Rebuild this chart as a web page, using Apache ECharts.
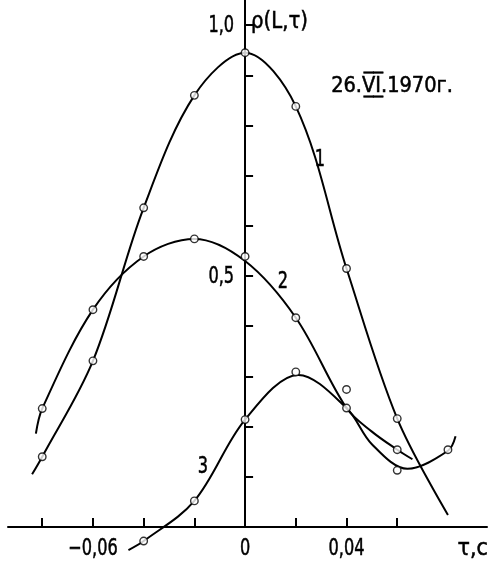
<!DOCTYPE html>
<html>
<head>
<meta charset="utf-8">
<script src="https://cdn.jsdelivr.net/npm/echarts@6/dist/echarts.min.js"></script>
<style>
  html, body { margin: 0; padding: 0; background: #fff; }
  #chart { width: 490px; height: 563px; }
</style>
</head>
<body>
<div id="chart"></div>
<script>
// Correlation coefficient ρ(L,τ) against time shift τ, seconds (26.VI.1970)

// Axis ticks and labelled values
const tauTicks = [-0.08, -0.06, -0.04, -0.02, 0.02, 0.04, 0.06];
const tauLabels = [-0.06, 0, 0.04];
const rhoTicks = [0.1, 0.2, 0.3, 0.4, 0.5, 0.6, 0.7, 0.8, 0.9, 1.0];
const rhoLabels = [0.5, 1.0];

// Measured values (circles), [τ, ρ]
const points1 = [[-0.08, 0.140], [-0.06, 0.331], [-0.04, 0.636], [-0.02, 0.860],
                 [0, 0.945], [0.02, 0.838], [0.04, 0.515], [0.06, 0.216]];
const points2 = [[-0.08, 0.236], [-0.06, 0.433], [-0.04, 0.539], [-0.02, 0.574],
                 [0, 0.539], [0.02, 0.417], [0.04, 0.237], [0.06, 0.154]];
const points3 = [[-0.04, -0.028], [-0.02, 0.052], [0, 0.214], [0.02, 0.309],
                 [0.04, 0.274], [0.06, 0.113], [0.08, 0.154]];

// Smoothed curves drawn through the measurements, [τ, ρ]
const curve1 = [[-0.084, 0.105], [-0.08, 0.140], [-0.06, 0.331], [-0.04, 0.636],
                [-0.02, 0.860], [0, 0.945], [0.02, 0.838], [0.04, 0.515],
                [0.06, 0.216], [0.08, 0.024]];
const curve2 = [[-0.0825, 0.186], [-0.08, 0.236], [-0.06, 0.433], [-0.04, 0.539],
                [-0.02, 0.574], [0, 0.530], [0.02, 0.417], [0.04, 0.237],
                [0.05, 0.190], [0.06, 0.154], [0.066, 0.135]];
const curve3 = [[-0.046, -0.046], [-0.04, -0.028], [-0.02, 0.052], [0, 0.214],
                [0.021, 0.303], [0.04, 0.237], [0.05, 0.165], [0.064, 0.116],
                [0.08, 0.152], [0.083, 0.181]];

const curveNames = ['1', '2', '3'];
const TEXT_FONT = '"DejaVu Sans Condensed", "DejaVu Sans", sans-serif';

function fmtTau(v) {
  if (v === 0) return '0';
  return (v < 0 ? '\u2212' : '') + Math.abs(v).toFixed(2).replace('.', ',');
}
function fmtRho(v) {
  return v.toFixed(1).replace('.', ',');
}

const chart = echarts.init(document.getElementById('chart'), null, { renderer: 'canvas' });

const lineSeries = [curve1, curve2, curve3].map((c, i) => ({
  name: 'curve ' + curveNames[i],
  type: 'line',
  data: c,
  smooth: 0.34,
  showSymbol: false,
  symbol: 'none',
  clip: false,
  lineStyle: { color: '#000', width: 2 },
  z: 3
}));

const pointSeries = [points1, points2, points3].map((p, i) => ({
  name: 'points ' + curveNames[i],
  type: 'scatter',
  data: p,
  symbol: 'circle',
  symbolSize: 7.5,
  clip: false,
  itemStyle: { color: '#fff', borderColor: '#000', borderWidth: 1.4 },
  z: 5
}));

chart.setOption({
  animation: false,
  backgroundColor: '#fff',
  grid: { left: 8, right: 3, top: 0, bottom: 36, containLabel: false, outerBoundsMode: 'none' },
  xAxis: {
    type: 'value',
    min: -0.0935,
    max: 0.0954,
    axisLine: { show: true, onZero: true, lineStyle: { color: '#000', width: 2 } },
    axisTick: { show: true, inside: true, length: 9, customValues: tauTicks,
                lineStyle: { color: '#000', width: 2 } },
    axisLabel: { show: false },
    splitLine: { show: false }
  },
  yAxis: {
    type: 'value',
    min: 0,
    max: 1.05,
    axisLine: { show: true, onZero: true, lineStyle: { color: '#000', width: 2 } },
    axisTick: { show: true, inside: true, length: 8, customValues: rhoTicks,
                lineStyle: { color: '#000', width: 2 } },
    axisLabel: { show: false },
    splitLine: { show: false }
  },
  series: lineSeries.concat(pointSeries)
});

// Text elements; tick labels are placed through the axis scales
function textEl(text, x, y, size, align, scaleX) {
  return {
    type: 'text', x: x, y: y, z: 10, scaleX: scaleX || 0.78,
    style: { text: text, font: size + 'px ' + TEXT_FONT, fill: '#000',
             stroke: '#000', lineWidth: 0.5,
             align: align || 'center', verticalAlign: 'middle',
             textAlign: align || 'center', textVerticalAlign: 'middle' }
  };
}

const graphics = [];
tauLabels.forEach(v => {
  const p = chart.convertToPixel({ gridIndex: 0 }, [v, 0]);
  graphics.push(textEl(fmtTau(v), p[0], p[1] + 22, 23));
});
rhoLabels.forEach(v => {
  const p = chart.convertToPixel({ gridIndex: 0 }, [0, v]);
  graphics.push(textEl(fmtRho(v), p[0] - 11, p[1] + 1, 23, 'right'));
});
const origin = chart.convertToPixel({ gridIndex: 0 }, [0, 0]);
graphics.push(textEl('ρ(L,τ)', origin[0] + 6, 22, 23, 'left', 0.95));
graphics.push(textEl('τ,c', 488, origin[1] + 22, 23, 'right', 1.0));
graphics.push(textEl('26.V\u0305\u0332I\u0305\u0332.1970г.', 392, 86, 22, 'center', 0.98));
graphics.push(textEl(curveNames[0], 320, 160, 23));
graphics.push(textEl(curveNames[1], 283, 282, 23));
graphics.push(textEl(curveNames[2], 203, 467, 23));

chart.setOption({ graphic: graphics });
</script>
</body>
</html>
